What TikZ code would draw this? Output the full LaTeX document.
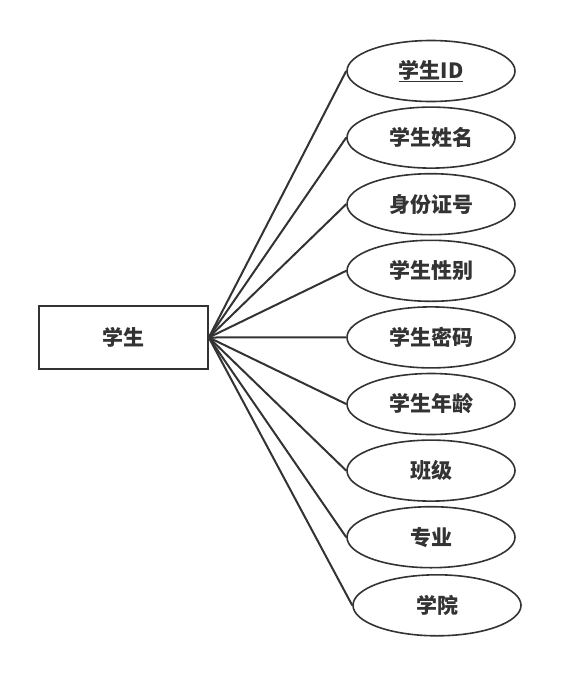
\documentclass[tikz,border=0pt]{standalone}
\usepackage{fontspec}
\newfontfamily\cjk{Noto Sans CJK SC}
\usepackage{tikz}
\usetikzlibrary{positioning}
\usetikzlibrary{shapes.geometric}
\definecolor{ink}{HTML}{333333}

\begin{document}
\begin{tikzpicture}[x=1pt,y=1pt,node distance=66.6pt,line width=1.6pt,draw=ink,
    every node/.style={font=\cjk\bfseries\fontsize{21}{24}\selectfont,text=ink},
    every edge/.style={draw=ink,line width=2pt},
    entity/.style={draw=ink,rectangle,minimum width=169pt,minimum height=63pt,inner sep=0pt},
    attr/.style={draw=ink,ellipse,minimum width=168pt,minimum height=61pt,inner sep=0pt}]
  \useasboundingbox (0,0) rectangle (562,-675);
  \node[entity] (student) at (123.5,-337.5) {学生};
  \node[attr]   (sid)     at (431,-71)        {\underline{学生ID}};
  \node[attr]   (sname)   [below of=sid]      {学生姓名};
  \node[attr]   (idcard)  [below of=sname]    {身份证号};
  \node[attr]   (gender)  [below of=idcard]   {学生性别};
  \node[attr]   (passwd)  [below of=gender]   {学生密码};
  \node[attr]   (age)     [below of=passwd]   {学生年龄};
  \node[attr]   (class)   [below of=age]      {班级};
  \node[attr]   (major)   [below of=class]    {专业};
  \node[attr]   (college) [below of=major,xshift=6pt,yshift=-1.5pt] {学院};

  \path
     (student.east) edge (sid.west)
     (student.east) edge (sname.west)
     (student.east) edge (idcard.west)
     (student.east) edge (gender.west)
     (student.east) edge (passwd.west)
     (student.east) edge (age.west)
     (student.east) edge (class.west)
     (student.east) edge (major.west)
     (student.east) edge (college.west);
\end{tikzpicture}
\end{document}
